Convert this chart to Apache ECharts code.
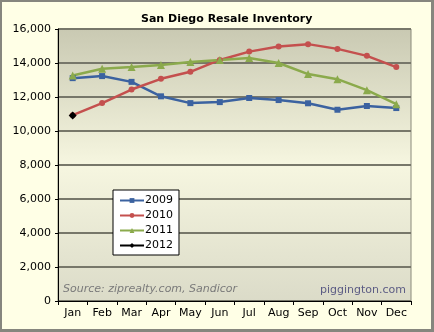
<!DOCTYPE html>
<html>
<head>
<meta charset="utf-8">
<style>
  html, body { margin: 0; padding: 0; background: #FFFFE6; }
  #chart { width: 434px; height: 332px; box-sizing: border-box; border: 2px solid #86867e; border-bottom-width: 3px; border-right-width: 3px; }
</style>
<script src="https://cdn.jsdelivr.net/npm/echarts@6/dist/echarts.min.js"></script>
</head>
<body>
<div id="chart"></div>
<script>
// Monthly resale inventory, San Diego
const months = ['Jan','Feb','Mar','Apr','May','Jun','Jul','Aug','Sep','Oct','Nov','Dec'];
const inv2009 = [13110, 13230, 12890, 12040, 11640, 11700, 11940, 11820, 11630, 11250, 11470, 11350];
const inv2010 = [10930, 11640, 12440, 13070, 13480, 14180, 14670, 14970, 15110, 14830, 14420, 13760];
const inv2011 = [13270, 13660, 13760, 13880, 14060, 14180, 14300, 14000, 13350, 13050, 12400, 11580];
const inv2012 = [10910];
const yTicks = { min: 0, max: 16000, step: 2000 };

const chart = echarts.init(document.getElementById('chart'), null, { renderer: 'canvas' });
const font = 'DejaVu Sans, Verdana, sans-serif';

function lineSeries(name, data, color, symbol, size) {
  return {
    name, type: 'line', data, symbol, symbolSize: size,
    lineStyle: { color, width: 2.5 },
    itemStyle: { color },
    z: 3
  };
}

chart.setOption({
  animation: false,
  backgroundColor: '#FFFFE6',
  title: {
    text: 'San Diego Resale Inventory',
    left: 134, top: 7,
    textStyle: { fontFamily: font, fontSize: 11, fontWeight: 'bold', color: '#000' }
  },
  grid: {
    left: 56, right: 20, top: 27, bottom: 28,
    show: true,
    borderColor: '#8a8a7a', borderWidth: 1,
    backgroundColor: {
      type: 'linear', x: 0, y: 0, x2: 0, y2: 1,
      colorStops: [
        { offset: 0, color: '#C9C9B2' },
        { offset: 0.5, color: '#F6F6E0' },
        { offset: 1, color: '#DBDBC8' }
      ]
    }
  },
  legend: {
    orient: 'vertical',
    left: 111, top: 188,
    backgroundColor: '#ffffff',
    borderColor: '#000', borderWidth: 1,
    padding: [5, 6, 4, 6],
    itemGap: 4, itemWidth: 24, itemHeight: 6,
    textStyle: { fontFamily: font, fontSize: 11, color: '#000', padding: [0, 0, 0, -4] },
    data: ['2009', '2010', '2011', '2012']
  },
  xAxis: {
    type: 'category',
    data: months,
    boundaryGap: true,
    axisLine: { lineStyle: { color: '#000', width: 1 } },
    axisTick: { show: true, alignWithLabel: false, length: 4, lineStyle: { color: '#000' } },
    axisLabel: { fontFamily: font, fontSize: 11, color: '#000', margin: 7, interval: 0 },
    splitLine: { show: false }
  },
  yAxis: {
    type: 'value',
    min: yTicks.min, max: yTicks.max, interval: yTicks.step,
    axisLine: { show: true, lineStyle: { color: '#000', width: 1 } },
    axisTick: { show: true, length: 3, lineStyle: { color: '#000' } },
    axisLabel: {
      fontFamily: font, fontSize: 11, color: '#000', margin: 7,
      formatter: v => v.toLocaleString('en-US')
    },
    splitLine: { lineStyle: { color: '#77776a', width: 2 } }
  },
  graphic: [
    {
      type: 'text', left: 61, top: 282, z: 10,
      style: { text: 'Source: ziprealty.com, Sandicor', fill: '#7a7a7a',
        font: 'italic 11px DejaVu Sans, Verdana, sans-serif' }
    },
    {
      type: 'text', right: 25, top: 283, z: 10,
      style: { text: 'piggington.com', fill: '#5c5c84',
        font: '11px DejaVu Sans, Verdana, sans-serif' }
    }
  ],
  series: [
    lineSeries('2009', inv2009, '#3B62A0', 'rect', 6),
    lineSeries('2010', inv2010, '#C4504E', 'circle', 6),
    lineSeries('2011', inv2011, '#8BAA4C', 'triangle', 8),
    lineSeries('2012', inv2012, '#000000', 'diamond', 8)
  ]
});
</script>
</body>
</html>
